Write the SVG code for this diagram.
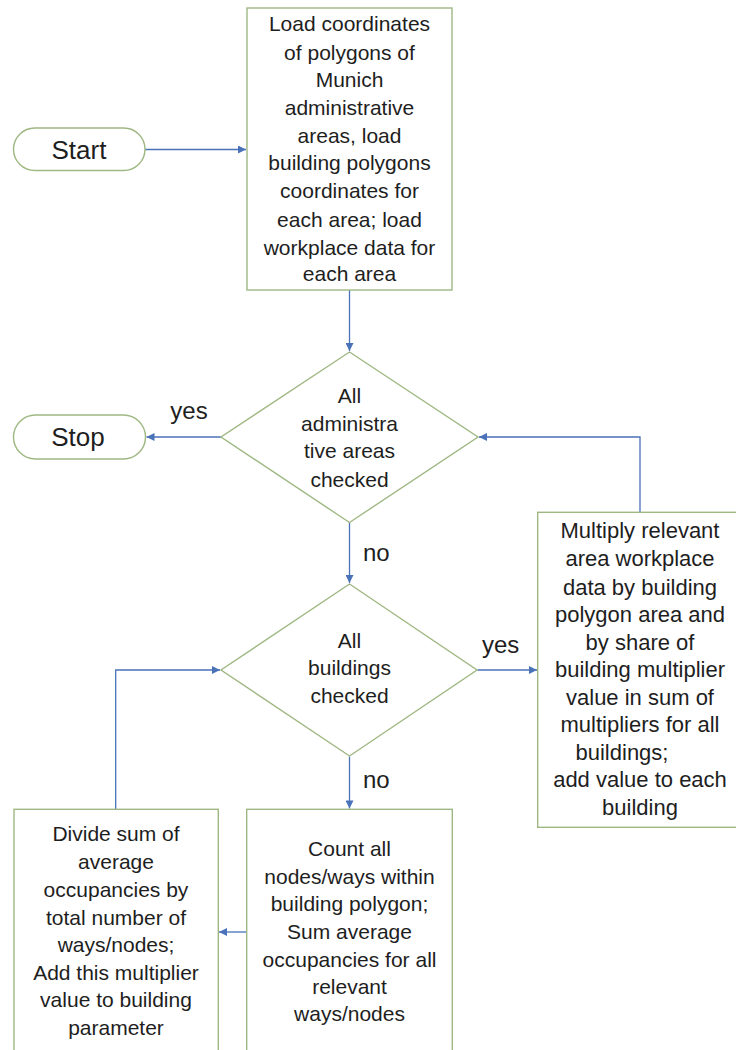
<svg xmlns="http://www.w3.org/2000/svg" width="736" height="1050" viewBox="0 0 736 1050">
<defs>
<marker id="ah" viewBox="0 0 10 10" refX="10" refY="5" markerWidth="9" markerHeight="8" markerUnits="userSpaceOnUse" orient="auto">
<path d="M0,0 L10,5 L0,10 z" fill="#4a72b8"/>
</marker>
<style>
.shape{fill:#ffffff;stroke:#9fb883;stroke-width:1.4}
.conn{fill:none;stroke:#4a72b8;stroke-width:1.3;marker-end:url(#ah)}
.t{font-family:"Liberation Sans",Arial,sans-serif;font-size:21px;fill:#1e1e1e;text-anchor:middle}
.t2{font-family:"Liberation Sans",Arial,sans-serif;font-size:22px;fill:#1e1e1e;text-anchor:middle}
.lbl{font-family:"Liberation Sans",Arial,sans-serif;font-size:24px;fill:#1e1e1e}
.term{font-family:"Liberation Sans",Arial,sans-serif;font-size:26px;fill:#1e1e1e;text-anchor:middle}
</style>
</defs>
<rect width="736" height="1050" fill="#ffffff"/>

<g id="connectors">
<line class="conn" x1="145" y1="149.5" x2="246" y2="149.5"/>
<line class="conn" x1="349.5" y1="290" x2="349.5" y2="351"/>
<line class="conn" x1="221" y1="437" x2="146.5" y2="437"/>
<line class="conn" x1="349.5" y1="522.5" x2="349.5" y2="583"/>
<line class="conn" x1="477.5" y1="670" x2="537" y2="670"/>
<polyline class="conn" points="640,512 640,437 479,437"/>
<line class="conn" x1="349.5" y1="756.5" x2="349.5" y2="808.5"/>
<line class="conn" x1="247" y1="932" x2="219" y2="932"/>
<polyline class="conn" points="115.7,809 115.7,670 220,670"/>
</g>

<g id="labels">
<text class="lbl" x="189" y="419" text-anchor="middle">yes</text>
<text class="lbl" x="363" y="561">no</text>
<text class="lbl" x="482" y="653">yes</text>
<text class="lbl" x="363" y="788">no</text>
</g>

<g id="start">
<rect class="shape" x="13.5" y="128" width="131.5" height="42.5" rx="21.25"/>
<text class="term" x="79" y="158.5">Start</text>
</g>

<g id="load">
<rect class="shape" x="247" y="8" width="205" height="282"/>
<text class="t" x="349.5" y="31">Load coordinates</text>
<text class="t" x="349.5" y="59.5">of polygons of</text>
<text class="t" x="349.5" y="87">Munich</text>
<text class="t" x="349.5" y="115">administrative</text>
<text class="t" x="349.5" y="142.5">areas, load</text>
<text class="t" x="349.5" y="170">building polygons</text>
<text class="t" x="349.5" y="198">coordinates for</text>
<text class="t" x="349.5" y="226.5">each area; load</text>
<text class="t" x="349.5" y="254.5">workplace data for</text>
<text class="t" x="349.5" y="281">each area</text>
</g>

<g id="stop">
<rect class="shape" x="13.5" y="415" width="132" height="44" rx="22"/>
<text class="term" x="78" y="446">Stop</text>
</g>

<g id="areas-checked">
<polygon class="shape" points="349.5,352 478,437 349.5,522.5 221,437"/>
<text class="t" x="349.5" y="403">All</text>
<text class="t" x="349.5" y="430.5">administra</text>
<text class="t" x="349.5" y="458">tive areas</text>
<text class="t" x="349.5" y="486.5">checked</text>
</g>

<g id="buildings-checked">
<polygon class="shape" points="349.5,584 477,670 349.5,756 221,670"/>
<text class="t" x="349.5" y="647.5">All</text>
<text class="t" x="349.5" y="675">buildings</text>
<text class="t" x="349.5" y="702.5">checked</text>
</g>

<g id="multiply">
<rect class="shape" x="537.7" y="512.3" width="205" height="315"/>
<text class="t2" x="640" y="537.5">Multiply relevant</text>
<text class="t2" x="640" y="566">area workplace</text>
<text class="t2" x="640" y="594.5">data by building</text>
<text class="t2" x="640" y="622">polygon area and</text>
<text class="t2" x="640" y="650">by share of</text>
<text class="t2" x="640" y="677">building multiplier</text>
<text class="t2" x="640" y="705">value in sum of</text>
<text class="t2" x="640" y="732">multipliers for all</text>
<text class="t2" x="622" y="760">buildings;</text>
<text class="t2" x="640" y="787">add value to each</text>
<text class="t2" x="640" y="815">building</text>
</g>

<g id="count">
<rect class="shape" x="246.7" y="809.3" width="205.6" height="260"/>
<text class="t" x="349.5" y="856">Count all</text>
<text class="t" x="349.5" y="883.5">nodes/ways within</text>
<text class="t" x="349.5" y="911">building polygon;</text>
<text class="t" x="349.5" y="939">Sum average</text>
<text class="t" x="349.5" y="966.5">occupancies for all</text>
<text class="t" x="349.5" y="993.5">relevant</text>
<text class="t" x="349.5" y="1021">ways/nodes</text>
</g>

<g id="divide">
<rect class="shape" x="14" y="809.3" width="204.3" height="260"/>
<text class="t" x="116" y="840.5">Divide sum of</text>
<text class="t" x="116" y="868.5">average</text>
<text class="t" x="116" y="896.5">occupancies by</text>
<text class="t" x="116" y="924.5">total number of</text>
<text class="t" x="116" y="952">ways/nodes;</text>
<text class="t" x="116" y="980">Add this multiplier</text>
<text class="t" x="116" y="1007">value to building</text>
<text class="t" x="116" y="1035">parameter</text>
</g>
</svg>
